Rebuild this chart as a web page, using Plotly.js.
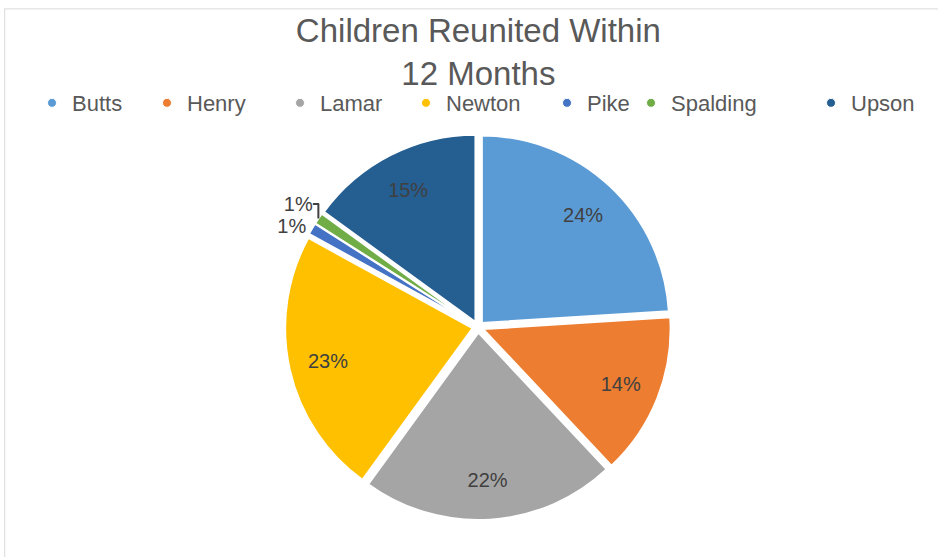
<!DOCTYPE html>
<html>
<head>
<meta charset="utf-8">
<script src="https://cdn.plot.ly/plotly-3.0.1.min.js"></script>
<style>html,body{margin:0;padding:0;background:#fff;}#chart{width:938px;height:557px;}</style>
</head>
<body>
<div id="chart"></div>
<script>
const labels = ["Butts", "Henry", "Lamar", "Newton", "Pike", "Spalding", "Upson"];
const values = [24, 14, 22, 23, 1, 1, 15];
const colors = ["#5B9BD5", "#ED7D31", "#A5A5A5", "#FFC000", "#4472C4", "#70AD47", "#255E91"];
const titleText = "Children Reunited Within<br>12 Months";

const FONT = "Liberation Sans, Arial, sans-serif";
// legend marker x positions (pixels) in the reference layout
const legendMarkerPx = [52, 167, 300, 426, 567, 651, 831];
const pieDomain = {x: [0.3038, 0.7154], y: [0.0664, 0.7594]};

// Main pie: slices, and outside labels for the tiny slices
const pie = {
  type: "pie",
  labels: labels,
  values: values,
  sort: false,
  direction: "clockwise",
  rotation: 0,
  pull: 0.03,
  marker: {colors: colors, line: {color: "#ffffff", width: 2}},
  texttemplate: "%{value}%",
  textposition: values.map(v => v < 5 ? "outside" : "none"),
  textfont: {family: FONT, size: 20, color: "#404040"},
  outsidetextfont: {family: FONT, size: 20, color: "#404040"},
  hoverinfo: "label+percent",
  showlegend: false,
  domain: pieDomain
};

// Transparent ring overlay: places the large slices' labels further out, like the reference
const labelRing = {
  type: "pie",
  labels: labels,
  values: values,
  sort: false,
  direction: "clockwise",
  rotation: 0,
  pull: 0.03,
  hole: 0.58,
  marker: {colors: colors.map(() => "rgba(0,0,0,0)"), line: {width: 0}},
  texttemplate: "%{value}%",
  textposition: values.map(v => v < 5 ? "none" : "inside"),
  insidetextorientation: "horizontal",
  textfont: {family: FONT, size: 20, color: "#404040"},
  hoverinfo: "skip",
  showlegend: false,
  domain: pieDomain
};

const legendTraces = labels.map((l, i) => ({
  type: "scatter",
  mode: "markers",
  x: [null], y: [null],
  name: l,
  legend: i === 0 ? "legend" : "legend" + (i + 1),
  marker: {color: colors[i], size: 9, symbol: "circle", line: {color: "#ffffff", width: 1}},
  hoverinfo: "skip"
}));

const layout = {
  width: 938, height: 557,
  margin: {l: 0, r: 0, t: 0, b: 0},
  paper_bgcolor: "#ffffff",
  plot_bgcolor: "#ffffff",
  font: {family: FONT, color: "#595959"},
  title: {text: titleText, font: {family: FONT, size: 33, color: "#595959"},
          x: 0.51, xanchor: "center", y: 0.925, yanchor: "middle", yref: "container"},
  showlegend: true,
  xaxis: {visible: false}, yaxis: {visible: false},
  shapes: [{type: "rect", xref: "paper", yref: "paper", x0: 0.005, x1: 1.02, y0: -0.02, y1: 0.984,
            line: {color: "#d9d9d9", width: 1}, fillcolor: "rgba(0,0,0,0)", layer: "below"}]
};

legendMarkerPx.forEach((px, i) => {
  const key = i === 0 ? "legend" : "legend" + (i + 1);
  layout[key] = {
    orientation: "h", x: (px - 20) / 938, xanchor: "left", y: 0.815, yanchor: "middle",
    font: {family: FONT, size: 22, color: "#595959"}, bgcolor: "rgba(0,0,0,0)",
    itemwidth: 30
  };
});

Plotly.newPlot("chart", [pie, labelRing].concat(legendTraces), layout, {displayModeBar: false});
</script>
</body>
</html>
